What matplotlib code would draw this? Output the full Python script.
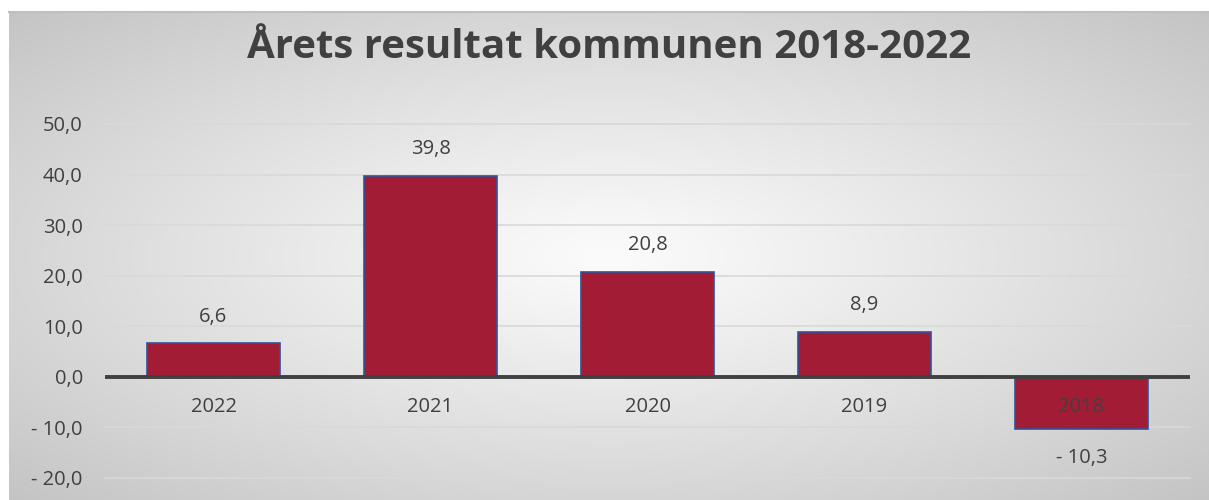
import numpy as np
import matplotlib
matplotlib.use("Agg")
import matplotlib.pyplot as plt

YEARS = ["2022", "2021", "2020", "2019", "2018"]
RESULTS = [6.6, 39.8, 20.8, 8.9, -10.3]
Y_TICKS = [-20, -10, 0, 10, 20, 30, 40, 50]
TITLE = "Årets resultat kommunen 2018-2022"

BAR_COLOR = "#A31C36"
EDGE_COLOR = "#2F5597"
TEXT_COLOR = "#404040"
LABEL_SIZE = 14.5

plt.rcParams["font.family"] = ["Open Sans", "DejaVu Sans"]


def fmt(v):
    s = f"{abs(v):.1f}".replace(".", ",")
    return f"- {s}" if v < 0 else s


W, H = 1209, 500
fig = plt.figure(figsize=(W / 100, H / 100), dpi=100)
fig.patch.set_facecolor("white")

# panel with radial gradient background
px0, py_top = 9, 12
bg = fig.add_axes([px0 / W, 0, 1 - px0 / W, (H - py_top) / H], zorder=0)
nx, ny = 400, 200
xx, yy = np.meshgrid(np.linspace(-1, 1, nx), np.linspace(-1, 1, ny))
r = np.sqrt(xx ** 2 + yy ** 2) / np.sqrt(2)
t = np.clip(r, 0, 1) ** 1.1
c0 = np.array([0.985, 0.985, 0.985])
c1 = np.array([0.77, 0.77, 0.77])
img = c0[None, None, :] * (1 - t[..., None]) + c1[None, None, :] * t[..., None]
bg.imshow(img, aspect="auto", extent=[0, 1, 0, 1], origin="lower")
bg.set_xlim(0, 1)
bg.set_ylim(0, 1)
bg.axis("off")
bg.plot([0, 1], [1, 1], color="#bfbfbf", lw=1.5, transform=bg.transAxes, clip_on=False)

left, right = 105, 1190
top, bottom = 124, 478
ax = fig.add_axes([left / W, (H - bottom) / H, (right - left) / W, (bottom - top) / H], zorder=1)
ax.patch.set_alpha(0)

x = np.arange(len(YEARS))
ax.set_xlim(-0.5, len(YEARS) - 0.5)
ax.set_ylim(-20, 50)

for yv in Y_TICKS:
    if yv != 0:
        ax.axhline(yv, color="#d9d9d9", lw=1.2, zorder=1, clip_on=False)

ax.bar(x, RESULTS, width=0.615, color=BAR_COLOR, edgecolor=EDGE_COLOR, linewidth=1.2, zorder=2)
ax.axhline(0, color="#404040", lw=2.8, zorder=3)

for xi, v, yr in zip(x, RESULTS, YEARS):
    off = 19 if v >= 0 else -21
    ax.annotate(fmt(v), (xi, v), xytext=(0, off), textcoords="offset points",
                ha="center", va="center", fontsize=LABEL_SIZE, color=TEXT_COLOR, zorder=4)
    ax.annotate(yr, (xi, 0), xytext=(0, -22), textcoords="offset points",
                ha="center", va="center", fontsize=LABEL_SIZE, color=TEXT_COLOR, zorder=5)

ax.set_yticks(Y_TICKS)
ax.set_yticklabels([fmt(v) for v in Y_TICKS], fontsize=LABEL_SIZE, color=TEXT_COLOR)
ax.set_xticks([])
ax.tick_params(axis="y", length=0, pad=16)
for s in ax.spines.values():
    s.set_visible(False)

fig.text(0.5 + px0 / W / 2, (H - 47) / H, TITLE, ha="center", va="center",
         fontsize=29, fontweight="bold", color=TEXT_COLOR)

fig.savefig("out.png", dpi=100)
